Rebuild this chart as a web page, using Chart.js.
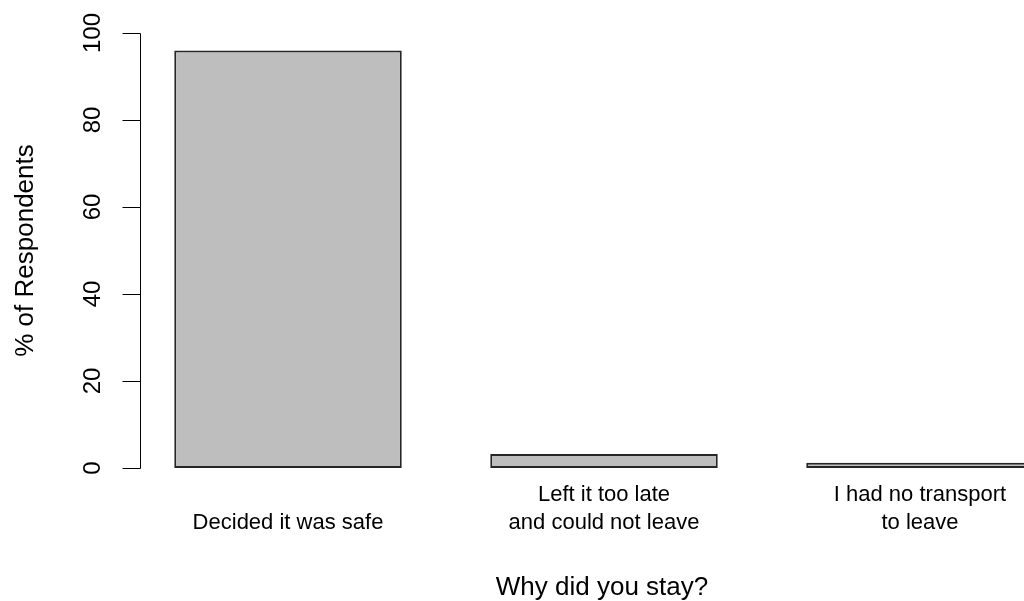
<!DOCTYPE html>
<html>
<head>
<meta charset="utf-8">
<script src="https://cdn.jsdelivr.net/npm/chart.js@4"></script>
<style>
  html, body { margin: 0; padding: 0; background: #fff; overflow: hidden; }
  #wrap { position: relative; width: 1100px; height: 601px; }
</style>
</head>
<body>
<div id="wrap"><canvas id="c"></canvas></div>
<script>
// ---- data ----
const categories = [
  ['', 'Decided it was safe'],
  ['Left it too late', 'and could not leave'],
  ['I had no transport', 'to leave']
];
const percentValues = [96, 3.2, 1.2];
const yTickValues = [0, 20, 40, 60, 80, 100];
const xAxisTitle = 'Why did you stay?';
const yAxisTitle = '% of Respondents';

const FONT = '"Liberation Sans", Arial, Helvetica, sans-serif';

const rAxesPlugin = {
  id: 'rAxes',
  afterDraw(chart) {
    const ctx = chart.ctx;
    const y = chart.scales.y;
    const x = chart.scales.x;
    const area = chart.chartArea;
    const axisX = 140.5;
    ctx.save();
    ctx.strokeStyle = '#000';
    ctx.lineWidth = 1;
    // axis line from first to last tick
    const yTop = Math.round(y.getPixelForValue(yTickValues[yTickValues.length - 1])) + 0.5;
    const yBot = Math.round(y.getPixelForValue(yTickValues[0])) + 0.5;
    ctx.beginPath();
    ctx.moveTo(axisX, yTop);
    ctx.lineTo(axisX, yBot);
    yTickValues.forEach(v => {
      const py = Math.round(y.getPixelForValue(v)) + 0.5;
      ctx.moveTo(axisX, py);
      ctx.lineTo(axisX - 18, py);
    });
    ctx.stroke();
    // tick labels (rotated, like R las=0)
    ctx.fillStyle = '#000';
    ctx.font = '24px ' + FONT;
    ctx.textAlign = 'center';
    ctx.textBaseline = 'alphabetic';
    yTickValues.forEach(v => {
      const py = y.getPixelForValue(v);
      ctx.save();
      ctx.translate(100, py);
      ctx.rotate(-Math.PI / 2);
      ctx.fillText(String(v), 0, 0);
      ctx.restore();
    });
    // axis titles
    ctx.font = '26px ' + FONT;
    ctx.save();
    ctx.translate(33, (area.top + area.bottom) / 2);
    ctx.rotate(-Math.PI / 2);
    ctx.fillText(yAxisTitle, 0, 0);
    ctx.restore();
    ctx.fillText(xAxisTitle, x.getPixelForValue(1) - 2, 595);
    ctx.restore();
  }
};

new Chart(document.getElementById('c'), {
  type: 'bar',
  data: {
    labels: categories,
    datasets: [{
      data: percentValues,
      backgroundColor: '#BEBEBE',
      borderColor: '#262626',
      borderWidth: 2,
      borderSkipped: false,
      categoryPercentage: 1,
      barPercentage: 0.72
    }]
  },
  options: {
    responsive: true,
    maintainAspectRatio: false,
    animation: false,
    devicePixelRatio: 1,
    layout: { padding: { left: 130, right: 22, top: 33, bottom: 0 } },
    plugins: { legend: { display: false }, tooltip: { enabled: false } },
    scales: {
      x: {
        grid: { display: false, drawTicks: false },
        border: { display: false },
        ticks: {
          color: '#000',
          font: { family: FONT, size: 22, lineHeight: 1.286 },
          padding: 12.5,
          maxRotation: 0,
          minRotation: 0,
          autoSkip: false
        },
        afterFit(scale) { scale.height = 133; }
      },
      y: {
        display: false,
        min: 0,
        max: 100,
        ticks: { stepSize: 20 }
      }
    }
  },
  plugins: [rAxesPlugin]
});
</script>
</body>
</html>
